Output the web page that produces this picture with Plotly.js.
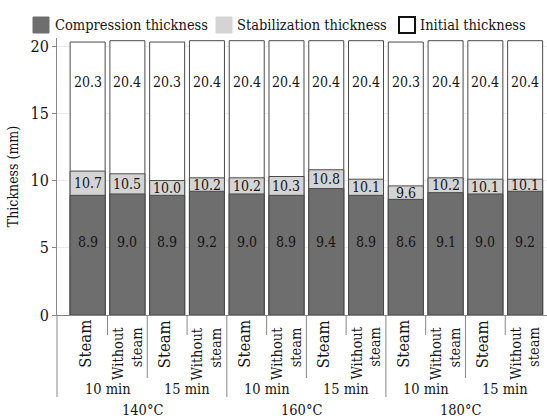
<!DOCTYPE html>
<html>
<head>
<meta charset="utf-8">
<script src="https://cdn.plot.ly/plotly-3.0.1.min.js"></script>
<style>html,body{margin:0;padding:0;background:#fff;}#chart{width:547px;height:419px;}</style>
</head>
<body>
<div id="chart"></div>
<script>
// ---- data ----
var treatments = ['Steam','Without<br>steam','Steam','Without<br>steam','Steam','Without<br>steam','Steam','Without<br>steam','Steam','Without<br>steam','Steam','Without<br>steam'];
var times = ['10 min','15 min','10 min','15 min','10 min','15 min'];
var temps = ['140°C','160°C','180°C'];
var compression = [8.9, 9.0, 8.9, 9.2, 9.0, 8.9, 9.4, 8.9, 8.6, 9.1, 9.0, 9.2];
var stabilization = [10.7, 10.5, 10.0, 10.2, 10.2, 10.3, 10.8, 10.1, 9.6, 10.2, 10.1, 10.1];
var initial = [20.3, 20.4, 20.3, 20.4, 20.4, 20.4, 20.4, 20.4, 20.3, 20.4, 20.4, 20.4];
var seriesNames = ['Compression thickness', 'Stabilization thickness', 'Initial thickness'];
var yTicks = [0, 5, 10, 15, 20];

// ---- layout geometry ----
var W = 547, H = 419, ML = 57, MR = 0, MT = 38, MB = 104;
var PW = W - ML - MR, PH = H - MT - MB;
function px2x(px){ return (px - ML) / PW; }
function py2y(py){ return (H - MB - py) / PH; }

var FONT = 'DejaVu Serif Condensed';
var TXT = '#151515';
var DARK = '#6e6e6e', LIGHT = '#d4d4d4', EDGE = '#4a4a4a';
var FS = 14.5;

var xs = treatments.map(function(_, i){ return i; });

var traces = [
  {type:'bar', x:xs, y:initial, name:seriesNames[2], width:0.88,
   marker:{color:'#ffffff', line:{color:EDGE, width:1}}, hoverinfo:'none'},
  {type:'bar', x:xs, y:stabilization, name:seriesNames[1], width:0.88,
   marker:{color:LIGHT, line:{color:EDGE, width:1}}, hoverinfo:'none'},
  {type:'bar', x:xs, y:compression, name:seriesNames[0], width:0.88,
   marker:{color:DARK, line:{color:EDGE, width:1}}, hoverinfo:'none'}
];

var annotations = [];
var shapes = [];

xs.forEach(function(i){
  annotations.push({x:i, y:5.4, xref:'x', yref:'y', text:compression[i].toFixed(1), showarrow:false,
    font:{family:FONT, size:14, color:TXT}});
  annotations.push({x:i, y:(compression[i]+stabilization[i])/2, xref:'x', yref:'y', text:stabilization[i].toFixed(1), showarrow:false,
    font:{family:FONT, size:14, color:TXT}});
  annotations.push({x:i, y:17.3, xref:'x', yref:'y', text:initial[i].toFixed(1), showarrow:false,
    font:{family:FONT, size:14, color:TXT}});
});

xs.forEach(function(i){
  var isSteam = treatments[i] === 'Steam';
  annotations.push({x:i, y:isSteam ? py2y(318) : py2y(325), xref:'x', yref:'paper', text:treatments[i],
    textangle:-90, showarrow:false, xanchor:'center', yanchor:'top', align:'right',
    xshift: isSteam ? -3 : 0,
    font:{family:FONT, size:isSteam ? 16.5 : 14.5, color:TXT}});
});

times.forEach(function(t, k){
  annotations.push({x:2*k + 0.5, y:py2y(389), xref:'x', yref:'paper', text:t, showarrow:false,
    xanchor:'center', yanchor:'middle', font:{family:FONT, size:FS, color:TXT}});
});
temps.forEach(function(t, k){
  annotations.push({x:4*k + 1.5, y:py2y(410), xref:'x', yref:'paper', text:t, showarrow:false,
    xanchor:'center', yanchor:'middle', xshift:-5, font:{family:FONT, size:FS, color:TXT}});
});

var LINEC = '#888';
for (var b = 0; b < xs.length - 1; b++) {
  var pos = b + 0.5, bottom;
  if ((b + 1) % 4 === 0) bottom = py2y(397);
  else if ((b + 1) % 2 === 0) bottom = py2y(378);
  else bottom = py2y(335);
  shapes.push({type:'line', xref:'x', yref:'paper', x0:pos, x1:pos, y0:0, y1:bottom, line:{color:LINEC, width:1}});
}
shapes.push({type:'line', xref:'paper', yref:'paper', x0:0, x1:0, y0:0, y1:py2y(397), line:{color:LINEC, width:1}});

var legX = [33, 216, 399], legTextX = [53, 235, 418];
var legFill = [DARK, LIGHT, '#ffffff'];
var legLine = [DARK, LIGHT, '#111'];
[0, 1, 2].forEach(function(k){
  shapes.push({type:'rect', xref:'paper', yref:'paper', x0:px2x(legX[k]), x1:px2x(legX[k] + 16),
    y0:py2y(33), y1:py2y(17), fillcolor:legFill[k], line:{color:legLine[k], width:k === 2 ? 2 : 1}});
  annotations.push({x:px2x(legTextX[k]), y:py2y(25), xref:'paper', yref:'paper', text:seriesNames[k],
    showarrow:false, xanchor:'left', yanchor:'middle', font:{family:FONT, size:FS, color:TXT}});
});

var layout = {
  width:W, height:H,
  margin:{l:ML, r:MR, t:MT, b:MB, pad:0},
  paper_bgcolor:'#fff', plot_bgcolor:'#fff',
  barmode:'overlay',
  showlegend:false,
  font:{family:FONT, color:TXT},
  xaxis:{range:[-0.77, 11.55], showticklabels:false, ticks:'', showgrid:false, zeroline:false,
    showline:true, linecolor:LINEC, linewidth:1, fixedrange:true},
  yaxis:{range:[0, 20.6], tickvals:yTicks, ticktext:yTicks.map(String), ticks:'outside', ticklen:4, tickcolor:LINEC,
    showline:true, linecolor:LINEC, linewidth:1, showgrid:true, gridcolor:'#ebebeb', zeroline:false,
    tickfont:{family:FONT, size:16, color:TXT},
    title:{text:'Thickness (mm)', font:{family:FONT, size:14, color:TXT}, standoff:8}, fixedrange:true},
  annotations:annotations,
  shapes:shapes
};

Plotly.newPlot('chart', traces, layout, {displayModeBar:false, staticPlot:true});
</script>
</body>
</html>
